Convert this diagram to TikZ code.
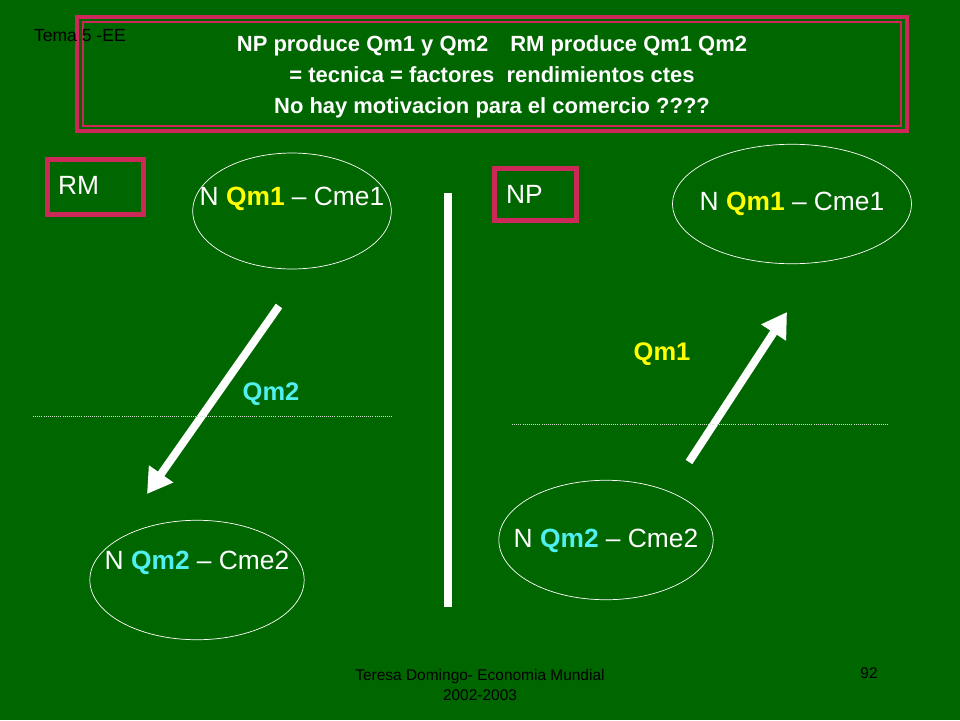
\documentclass[tikz,border=0pt]{standalone}
\usepackage{fontspec}
\setmainfont{Liberation Sans}
\usetikzlibrary{positioning, shapes, arrows.meta}
\definecolor{slidegreen}{RGB}{0,102,0}
\definecolor{crimson}{RGB}{204,40,90}
\definecolor{qyellow}{RGB}{255,255,0}
\definecolor{qcyan}{RGB}{80,240,240}

\begin{document}
\begin{tikzpicture}[x=0.02cm, y=-0.02cm, font=\fontsize{15pt}{18pt}\selectfont]
\tikzset{every node/.style={inner sep=0mm, outer sep=0mm}}

\tikzstyle{tag}=[draw=crimson, line width=3pt, fill=slidegreen]
\tikzstyle{market}=[ellipse, draw=white, thin]
\tikzstyle{label}=[text=white]
\tikzstyle{flow}=[-{Triangle[length=14pt,width=16pt]}, white, line width=4.5pt]
\tikzstyle{split}=[densely dotted, white!80!slidegreen, very thin]

\fill[slidegreen] (0,0) rectangle (960,720);

% title box
\draw[crimson, line width=2.5pt] (77,17) rectangle (907,131);
\draw[crimson, line width=1.2pt] (83,22) rectangle (901,126);
\node[label, align=center, font=\fontsize{12.5pt}{17.5pt}\selectfont\bfseries] (title) at (492,77)
  {NP produce Qm1 y Qm2\quad RM produce Qm1 Qm2\\= tecnica = factores\ \ rendimientos ctes\\No hay motivacion para el comercio ????};
\node[font=\fontsize{10pt}{11pt}\selectfont, anchor=west] (tema) at (34,36) {Tema 5 -EE};

% RM side
\node[tag, minimum width=55pt, minimum height=31pt] (rm box) at (95.5,187) {};
\node[label, anchor=west] (rm) at (58,185) {RM};
\node[market, minimum width=113pt, minimum height=66pt] (rm top) at (292,211) {};
\node[label] (rm top text) at (292,199) {N \textbf{\color{qyellow}Qm1} -- Cme1};
\node[market, minimum width=122pt, minimum height=68pt] (rm bot) at (197,580) {};
\node[label] (rm bot text) at (197,563) {N \textbf{\color{qcyan}Qm2} -- Cme2};
\coordinate (rm from) at (279,306);
\coordinate (rm to) at (147,494);
\draw[flow] (rm from) -- (rm to);
\node[font=\fontsize{14.5pt}{16pt}\selectfont\bfseries, text=qcyan] (rm q) at (271,394) {Qm2};
\coordinate (rm split a) at (33,416);
\coordinate (rm split b) at (392,416);
\draw[split] (rm split a) -- (rm split b);

% divider
\coordinate (div top) at (448,193);
\coordinate (div bot) at (448,607);
\draw[white, line width=4pt] (div top) -- (div bot);

% NP side
\node[tag, minimum width=47pt, minimum height=30pt] (np box) at (535.5,194.5) {};
\node[label, anchor=west] (np) at (506,194) {NP};
\node[market, minimum width=136pt, minimum height=68pt] (np top) at (792,204) {};
\node[label] (np top text) at (792,204) {N \textbf{\color{qyellow}Qm1} -- Cme1};
\node[market, minimum width=122pt, minimum height=68pt] (np bot) at (606,540) {};
\node[label] (np bot text) at (606,541) {N \textbf{\color{qcyan}Qm2} -- Cme2};
\coordinate (np from) at (689,462);
\coordinate (np to) at (787,312);
\draw[flow] (np from) -- (np to);
\node[font=\fontsize{14.5pt}{16pt}\selectfont\bfseries, text=qyellow] (np q) at (662,354) {Qm1};
\coordinate (np split a) at (512,424);
\coordinate (np split b) at (888,424);
\draw[split] (np split a) -- (np split b);

% footer
\node[align=center, font=\fontsize{8.8pt}{11pt}\selectfont] (foot) at (480,685) {Teresa Domingo- Economia Mundial\\2002-2003};
\node[font=\fontsize{8.8pt}{9pt}\selectfont] (page) at (869,673) {92};
\end{tikzpicture}
\end{document}
